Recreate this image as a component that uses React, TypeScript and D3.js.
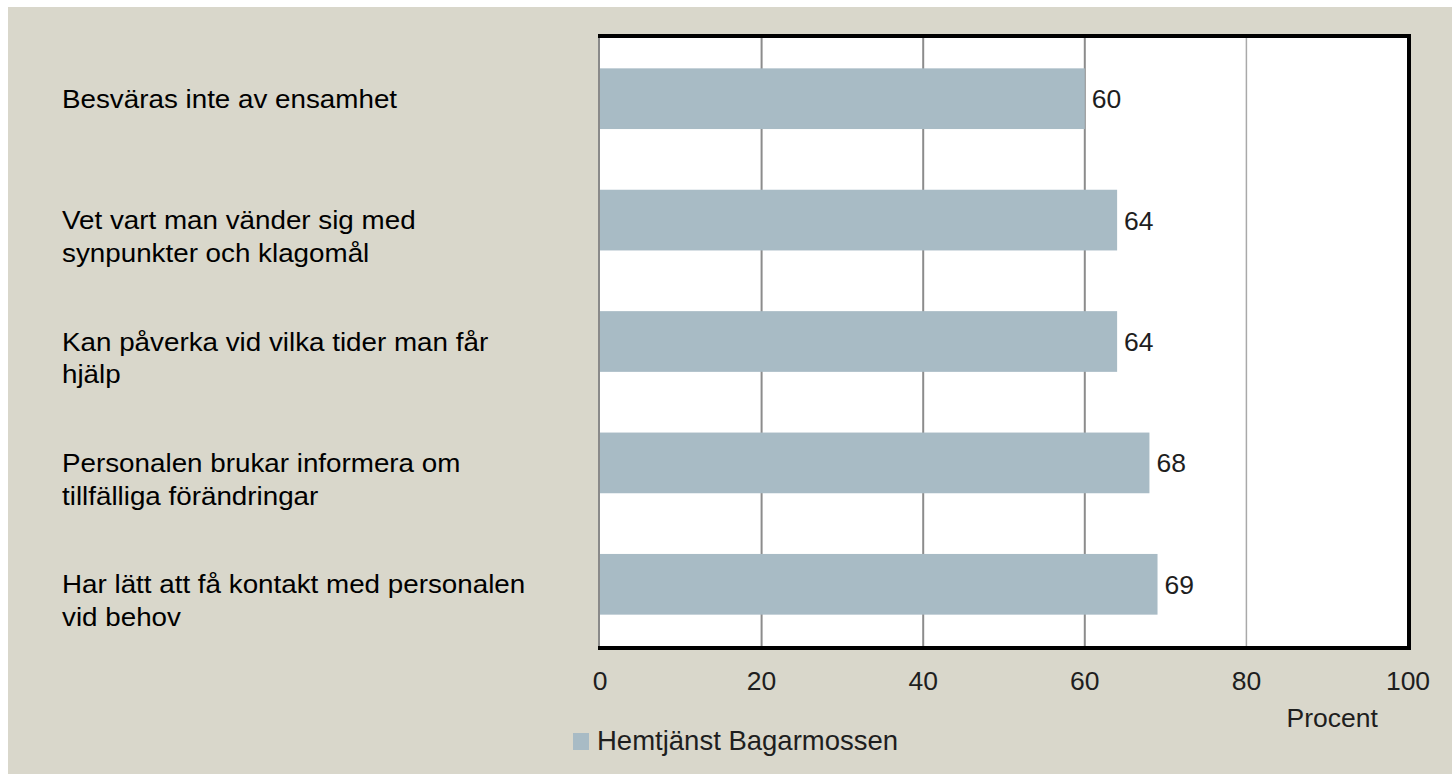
import React from "react";
import * as d3 from "d3";

const categories = [
  "Besväras inte av ensamhet",
  "Vet vart man vänder sig med\nsynpunkter och klagomål",
  "Kan påverka vid vilka tider man får\nhjälp",
  "Personalen brukar informera om\ntillfälliga förändringar",
  "Har lätt att få kontakt med personalen\nvid behov",
];
const values = [60, 64, 64, 68, 69];
const ticks = [0, 20, 40, 60, 80, 100];
const seriesName = "Hemtjänst Bagarmossen";
const axisTitle = "Procent";

const W = 1444;
const H = 767;
const OX = 8;
const OY = 7;
const BG = "#d9d7cb";
const BAR = "#a8bbc5";
const LABEL_FONT = "'Liberation Sans', Arial, sans-serif";

export default function App() {
  const left = 600, right = 1408, top = 37, bottom = 646;
  const x = d3.scaleLinear().domain([0, 100]).range([left, right]);
  const y = d3
    .scaleBand<string>()
    .domain(categories)
    .range([top + 1, bottom - 1])
    .paddingInner(0.5)
    .paddingOuter(0.25);
  const bw = y.bandwidth();

  return (
    <svg
      width={W}
      height={H}
      style={{ position: "absolute", left: OX, top: OY, display: "block" }}
    >
      <g transform={`translate(${-OX},${-OY})`}>
        <rect x={OX} y={OY} width={W} height={H} fill={BG} />
        {/* plot area */}
        <rect x={left} y={top} width={right - left} height={bottom - top} fill="#ffffff" />
        {/* gridlines */}
        {ticks
          .filter((t) => t > 0 && t < 100)
          .map((t) => (
            <line
              key={"g" + t}
              x1={x(t)}
              x2={x(t)}
              y1={top}
              y2={bottom}
              stroke={t === 80 ? "#a9a9a9" : "#8c8c8c"}
              strokeWidth={t === 80 ? 1.5 : 2}
            />
          ))}
        {/* bars */}
        {categories.map((c, i) => (
          <rect
            key={"b" + i}
            x={x(0)}
            y={y(c)!}
            width={x(values[i]) - x(0)}
            height={bw}
            fill={BAR}
          />
        ))}
        {/* value labels */}
        {categories.map((c, i) => (
          <text
            key={"v" + i}
            x={x(values[i]) + 7}
            y={y(c)! + bw / 2 + 9.5}
            fontFamily={LABEL_FONT}
            fontSize={26.5}
            fill="#1e1e1e"
          >
            {values[i]}
          </text>
        ))}
        {/* frame */}
        <rect x={598} y={top + 1} width={2} height={bottom - top} fill="#8a8a8a" />
        <rect x={598} y={top - 3} width={right - 598 + 3} height={4} fill="#000" />
        <rect x={right - 1} y={top - 3} width={4} height={bottom - top + 7} fill="#000" />
        <rect x={598} y={bottom} width={right - 598 + 3} height={4} fill="#000" />
        {/* tick labels */}
        {ticks.map((t) => (
          <text
            key={"t" + t}
            x={x(t)}
            y={690}
            textAnchor="middle"
            fontFamily={LABEL_FONT}
            fontSize={26.5}
            fill="#1e1e1e"
          >
            {t}
          </text>
        ))}
        <text
          x={x(90) + 5}
          y={727}
          textAnchor="middle"
          fontFamily={LABEL_FONT}
          fontSize={26.5}
          fill="#1e1e1e"
        >
          {axisTitle}
        </text>
        {/* category labels */}
        {categories.map((c, i) => {
          const lines = c.split("\n");
          const by = y(c)! + bw / 2 + 9;
          return (
            <g key={"c" + i} transform={`translate(62,${by}) scale(1.09,1)`}>
              <text fontFamily={LABEL_FONT} fontSize={25.5} fill="#000">
                {lines.map((l, j) => (
                  <tspan key={j} x={0} y={j * 33}>
                    {l}
                  </tspan>
                ))}
              </text>
            </g>
          );
        })}
        {/* legend */}
        <rect x={573} y={733} width={16} height={17} fill={BAR} />
        <text
          x={597}
          y={750}
          fontFamily={LABEL_FONT}
          fontSize={27.5}
          fill="#1e1e1e"
        >
          {seriesName}
        </text>
      </g>
    </svg>
  );
}
